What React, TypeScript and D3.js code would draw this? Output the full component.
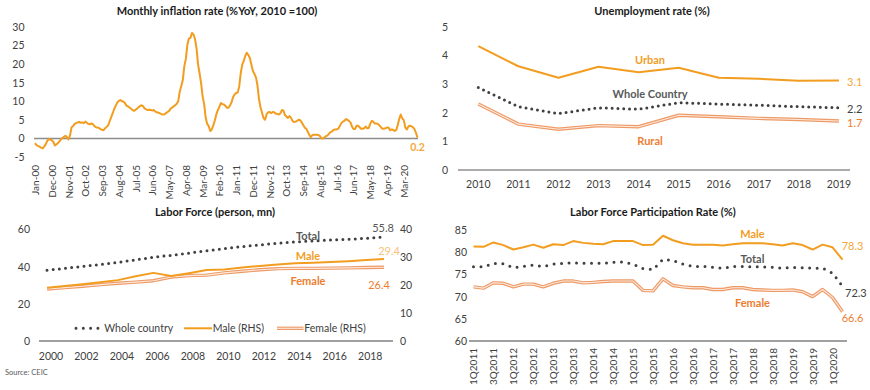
import React from "react";
import * as d3 from "d3";

const FONT = "Lato, 'Open Sans', sans-serif";
const ORANGE = "#F29D1F";
const RED_ORANGE = "#ED7D31";
const DARK = "#404040";

// Monthly CPI %YoY, Jan-2000 .. Dec-2020
const inflation = [
  -1.3, -1.8, -2.0, -2.2, -2.5, -2.7, -2.2, -1.6, -0.7, -0.2, -0.3, -0.5,
  -0.9, -1.9, -1.6, -1.3, -0.8, -0.3, 0.1, 0.4, 0.7, 0.3, -0.3, 0.8,
  3.0, 3.3, 3.9, 4.1, 4.3, 4.4, 4.2, 4.3, 4.1, 4.5, 4.2, 3.9,
  3.8, 4.0, 3.8, 3.3, 3.0, 2.9, 2.8, 2.5, 2.3, 2.2, 2.7, 3.1,
  3.5, 4.6, 5.7, 6.8, 7.9, 8.8, 9.6, 10.1, 10.3, 10.0, 9.9, 9.5,
  8.8, 8.6, 8.3, 8.0, 7.6, 7.4, 7.7, 8.0, 8.4, 8.7, 8.9, 8.6,
  8.0, 7.8, 7.6, 7.7, 7.6, 7.5, 7.6, 7.2, 7.0, 6.9, 6.7, 6.5,
  6.4, 6.5, 6.8, 7.1, 7.4, 8.0, 8.3, 8.6, 8.9, 9.3, 10.0, 12.6,
  14.1, 15.7, 19.4, 21.4, 25.2, 26.8, 27.0, 28.3, 27.9, 26.7, 24.2, 19.9,
  17.5, 14.8, 11.3, 9.2, 5.6, 3.9, 3.3, 2.0, 2.4, 3.5, 4.8, 6.5,
  7.6, 8.5, 9.5, 9.2, 9.1, 8.7, 8.2, 8.2, 8.9, 9.7, 11.1, 11.8,
  12.2, 12.3, 13.9, 17.5, 19.8, 20.8, 22.2, 23.0, 22.4, 21.6, 19.8, 18.1,
  17.3, 16.4, 14.2, 10.5, 8.3, 6.9, 5.4, 5.0, 6.5, 7.0, 7.1, 6.8,
  7.1, 7.0, 6.6, 6.6, 6.4, 6.7, 7.6, 7.5, 6.3, 5.9, 5.5, 6.0,
  5.5, 4.7, 4.4, 4.5, 4.7, 5.0, 4.9, 4.3, 3.6, 2.9, 2.6, 1.8,
  0.9, 0.3, 0.9, 1.0, 1.0, 1.0, 0.9, 0.6, 0.0, 0.0, 0.3, 0.6,
  0.8, 1.3, 1.7, 1.9, 2.3, 2.4, 2.4, 2.6, 3.3, 4.1, 4.5, 4.7,
  5.2, 5.0, 4.7, 4.3, 3.2, 2.5, 2.5, 3.4, 3.4, 3.0, 2.6, 2.6,
  2.7, 3.2, 2.7, 2.8, 3.9, 4.7, 4.5, 4.0, 4.0, 3.9, 3.5, 3.0,
  2.6, 2.6, 2.7, 2.9, 2.9, 2.2, 2.4, 2.3, 2.0, 2.2, 3.5, 5.2,
  6.4, 5.4, 4.9, 2.9, 2.4, 3.2, 3.4, 3.2, 3.0, 2.5, 1.5, 0.2,
];
const inflationTicks = [
  "Jan-00", "Dec-00", "Nov-01", "Oct-02", "Sep-03", "Aug-04", "Jul-05", "Jun-06",
  "May-07", "Apr-08", "Mar-09", "Feb-10", "Jan-11", "Dec-11", "Nov-12", "Oct-13",
  "Sep-14", "Aug-15", "Jul-16", "Jun-17", "May-18", "Apr-19", "Mar-20",
];
const inflationYTicks = [-5, 0, 5, 10, 15, 20, 25, 30];

// Unemployment rate (%)
const unempYears = [2010, 2011, 2012, 2013, 2014, 2015, 2016, 2017, 2018, 2019];
const unempUrban = [4.32, 3.62, 3.22, 3.6, 3.41, 3.57, 3.22, 3.18, 3.11, 3.12];
const unempWhole = [2.88, 2.21, 1.97, 2.17, 2.12, 2.35, 2.3, 2.26, 2.21, 2.17];
const unempRural = [2.3, 1.6, 1.42, 1.55, 1.51, 1.91, 1.86, 1.8, 1.76, 1.71];
const unempYTicks = [0, 1, 2, 3, 4, 5];

// Labor force (person, mn)
const lfYears = [2000, 2001, 2002, 2003, 2004, 2005, 2006, 2007, 2008, 2009,
  2010, 2011, 2012, 2013, 2014, 2015, 2016, 2017, 2018, 2019];
const lfTotal = [38.0, 39.0, 40.1, 41.1, 42.2, 43.6, 45.0, 46.0, 47.2, 48.5,
  49.6, 50.7, 51.6, 52.5, 53.2, 53.8, 54.2, 54.6, 55.2, 55.8];
const lfMale = [19.1, 19.7, 20.3, 21.0, 21.8, 23.2, 24.4, 23.3, 24.3, 25.4,
  25.6, 26.3, 26.9, 27.4, 27.8, 28.0, 28.3, 28.6, 29.0, 29.4];
const lfFemale = [18.6, 19.1, 19.6, 20.2, 20.7, 21.1, 21.6, 22.9, 23.4, 23.6,
  24.4, 25.0, 25.5, 25.9, 26.0, 26.0, 26.1, 26.2, 26.3, 26.4];
const lfLeftTicks = [0, 20, 40, 60];
const lfRightTicks = [0, 10, 20, 30, 40];
const lfXTicks = [2000, 2002, 2004, 2006, 2008, 2010, 2012, 2014, 2016, 2018];

// Labor force participation rate (%)
const lfprQuarters = [
  "1Q2011", "2Q2011", "3Q2011", "4Q2011", "1Q2012", "2Q2012", "3Q2012", "4Q2012",
  "1Q2013", "2Q2013", "3Q2013", "4Q2013", "1Q2014", "2Q2014", "3Q2014", "4Q2014",
  "1Q2015", "2Q2015", "3Q2015", "4Q2015", "1Q2016", "2Q2016", "3Q2016", "4Q2016",
  "1Q2017", "2Q2017", "3Q2017", "4Q2017", "1Q2018", "2Q2018", "3Q2018", "4Q2018",
  "1Q2019", "2Q2019", "3Q2019", "4Q2019", "1Q2020", "2Q2020",
];
const lfprMale = [81.3, 81.2, 82.2, 81.6, 80.6, 81.1, 81.7, 81.0, 81.8, 81.6,
  82.5, 82.1, 81.9, 81.8, 82.5, 82.5, 82.5, 81.6, 81.7, 83.7, 82.7, 82.0, 81.7,
  81.7, 81.7, 81.5, 81.8, 82.0, 82.0, 82.0, 81.8, 81.5, 82.0, 81.6, 80.6, 81.7,
  81.1, 78.3];
const lfprTotal = [76.7, 76.7, 77.5, 77.4, 76.5, 76.8, 77.1, 76.8, 77.3, 77.5,
  77.6, 77.5, 77.5, 77.5, 77.7, 77.8, 77.3, 76.3, 76.1, 78.4, 78.1, 77.3, 76.8,
  76.8, 76.6, 76.4, 76.8, 76.8, 76.7, 76.7, 76.6, 76.4, 76.6, 76.5, 76.4, 76.4,
  75.3, 72.3];
const lfprFemale = [72.2, 71.9, 73.1, 73.0, 72.2, 72.8, 72.8, 72.2, 73.0, 73.5,
  73.5, 73.1, 73.2, 73.4, 73.5, 73.5, 73.5, 71.4, 71.3, 74.0, 72.5, 72.2, 72.0,
  72.0, 71.6, 71.6, 72.0, 72.0, 71.6, 71.5, 71.4, 71.4, 71.5, 71.1, 70.0, 71.6,
  69.8, 66.6];
const lfprYTicks = [60, 65, 70, 75, 80, 85];

const DoubleLine = ({ d }: { d: string }) => (
  <g fill="none" strokeLinejoin="round">
    <path d={d} stroke="#EE9A67" strokeWidth={3.4} />
    <path d={d} stroke="#FCE9DC" strokeWidth={1.1} />
  </g>
);

const DotLine = ({ d, gap = 6 }: { d: string; gap?: number }) => (
  <path d={d} fill="none" stroke={DARK} strokeWidth={3} strokeLinecap="round"
    strokeDasharray={`0 ${gap}`} />
);

const Title = ({ x, y, text }: { x: number; y: number; text: string }) => (
  <text x={x} y={y} textAnchor="middle" dominantBaseline="central"
    fontWeight="bold" fontSize={11} fill="#1a1a1a">{text}</text>
);

export default function App() {
  // ---- inflation
  const xInf = d3.scaleLinear().domain([0, inflation.length - 1]).range([35, 417.5]);
  const yInf = d3.scaleLinear().domain([-5, 30]).range([157, 26.7]);
  const infLine = d3.line<number>().x((_, i) => xInf(i)).y((v) => yInf(v))(inflation) || "";

  // ---- unemployment
  const xU = d3.scaleLinear().domain([2010, 2019]).range([478.3, 839]);
  const yU = d3.scaleLinear().domain([0, 5]).range([170, 26.7]);
  const uLine = (vals: number[]) =>
    d3.line<number>().x((_, i) => xU(unempYears[i])).y((v) => yU(v))(vals) || "";

  // ---- labor force
  const xL = d3.scaleLinear().domain([2000, 2019]).range([47, 384]);
  const yLL = d3.scaleLinear().domain([0, 60]).range([341, 229.3]);
  const yLR = d3.scaleLinear().domain([0, 40]).range([341, 229.3]);
  const lfLine = (vals: number[], y: d3.ScaleLinear<number, number>) =>
    d3.line<number>().x((_, i) => xL(lfYears[i])).y((v) => y(v))(vals) || "";

  // ---- participation rate
  const xP = d3.scaleBand().domain(lfprQuarters).range([468.5, 847.5]);
  const yP = d3.scaleLinear().domain([60, 85]).range([341, 230]);
  const pLine = (vals: number[]) =>
    d3.line<number>().x((_, i) => (xP(lfprQuarters[i]) || 0) + xP.bandwidth() / 2)
      .y((v) => yP(v))(vals) || "";

  return (
    <svg width={870} height={390} style={{ position: "absolute", left: 0, top: 0, background: "#fff" }}
      fontFamily={FONT}>
      {/* Monthly inflation */}
      <Title x={217} y={10} text="Monthly inflation rate (%YoY, 2010 =100)" />
      {inflationYTicks.map((t) => (
        <text key={t} x={24.5} y={yInf(t)} textAnchor="end" dominantBaseline="central"
          fontSize={10.5} fill={DARK}>{t}</text>
      ))}
      <line x1={34} x2={418} y1={yInf(0)} y2={yInf(0)} stroke="#8c8c8c" strokeWidth={1.5} />
      {inflationTicks.map((t, i) => (
        <text key={t} transform={`translate(${xInf(i * 11)},165) rotate(-90)`} textAnchor="end"
          dominantBaseline="central" fontSize={10} fill={DARK}>{t}</text>
      ))}
      <path d={infLine} fill="none" stroke={ORANGE} strokeWidth={2} strokeLinejoin="round" />
      <text x={xInf(inflation.length - 1)} y={147} textAnchor="middle" dominantBaseline="central"
        fontSize={10.5} fontWeight="bold" fill="#F4A73C">{inflation[inflation.length - 1]}</text>

      {/* Unemployment */}
      <Title x={652} y={10} text="Unemployment rate (%)" />
      {unempYTicks.map((t) => (
        <text key={t} x={448} y={yU(t)} textAnchor="end" dominantBaseline="central"
          fontSize={10.5} fill={DARK}>{t}</text>
      ))}
      <line x1={458} x2={850} y1={yU(0)} y2={yU(0)} stroke="#595959" strokeWidth={1} />
      {unempYears.map((yr) => (
        <text key={yr} x={xU(yr)} y={184} textAnchor="middle" dominantBaseline="central"
          fontSize={10.5} fill={DARK}>{yr}</text>
      ))}
      <path d={uLine(unempUrban)} fill="none" stroke={ORANGE} strokeWidth={2} strokeLinejoin="round" />
      <DotLine d={uLine(unempWhole)} gap={5.8} />
      <DoubleLine d={uLine(unempRural)} />
      <text x={650} y={59} textAnchor="middle" dominantBaseline="central" fontSize={11}
        fontWeight="bold" fill={ORANGE}>Urban</text>
      <text x={650} y={93} textAnchor="middle" dominantBaseline="central" fontSize={11}
        fontWeight="bold" fill="#595959">Whole Country</text>
      <text x={650} y={140} textAnchor="middle" dominantBaseline="central" fontSize={11}
        fontWeight="bold" fill={RED_ORANGE}>Rural</text>
      <text x={847} y={81} dominantBaseline="central" fontSize={11} fill="#F4A73C">3.1</text>
      <text x={847} y={108} dominantBaseline="central" fontSize={11} fill={DARK}>2.2</text>
      <text x={847} y={122} dominantBaseline="central" fontSize={11} fill={RED_ORANGE}>1.7</text>

      {/* Labor force */}
      <Title x={215} y={211.5} text="Labor Force (person, mn)" />
      {lfLeftTicks.map((t) => (
        <text key={t} x={30} y={yLL(t)} textAnchor="end" dominantBaseline="central"
          fontSize={10.5} fill={DARK}>{t}</text>
      ))}
      {lfRightTicks.map((t) => (
        <text key={t} x={400} y={yLR(t)} dominantBaseline="central"
          fontSize={10.5} fill={DARK}>{t}</text>
      ))}
      <line x1={39} x2={393} y1={341} y2={341} stroke="#404040" strokeWidth={1} />
      {lfXTicks.map((yr) => (
        <text key={yr} x={xL(yr) + 4} y={356} textAnchor="middle" dominantBaseline="central"
          fontSize={10.5} fill={DARK}>{yr}</text>
      ))}
      <DoubleLine d={lfLine(lfFemale, yLR)} />
      <path d={lfLine(lfMale, yLR)} fill="none" stroke={ORANGE} strokeWidth={2} strokeLinejoin="round" />
      <DotLine d={lfLine(lfTotal, yLL)} gap={6.2} />
      <text x={308} y={235} textAnchor="middle" dominantBaseline="central" fontSize={11}
        fontWeight="bold" fill="#595959">Total</text>
      <text x={308} y={255.7} textAnchor="middle" dominantBaseline="central" fontSize={11}
        fontWeight="bold" fill={ORANGE}>Male</text>
      <text x={308} y={280} textAnchor="middle" dominantBaseline="central" fontSize={11}
        fontWeight="bold" fill={RED_ORANGE}>Female</text>
      <text x={383} y={227.3} textAnchor="middle" dominantBaseline="central" fontSize={11}
        fill="#595959">{lfTotal[lfTotal.length - 1]}</text>
      <text x={389} y={250} textAnchor="middle" dominantBaseline="central" fontSize={11}
        fill="#F7C27A">{lfMale[lfMale.length - 1]}</text>
      <text x={379} y={284.3} textAnchor="middle" dominantBaseline="central" fontSize={11}
        fill={RED_ORANGE}>{lfFemale[lfFemale.length - 1]}</text>
      {/* legend */}
      <DotLine d="M76,328.3L98,328.3" gap={7.3} />
      <text x={104.3} y={328.3} dominantBaseline="central" fontSize={10.5} fill={DARK}>Whole country</text>
      <line x1={184} x2={212} y1={328.3} y2={328.3} stroke={ORANGE} strokeWidth={2} />
      <text x={212.7} y={328.3} dominantBaseline="central" fontSize={10.5} fill={DARK}>Male (RHS)</text>
      <DoubleLine d="M277,328.3L303.5,328.3" />
      <text x={304.3} y={328.3} dominantBaseline="central" fontSize={10.5} fill={DARK}>Female (RHS)</text>
      <text x={5} y={372.5} dominantBaseline="central" fontSize={7.5} fill="#595959">Source: CEIC</text>

      {/* Participation rate */}
      <Title x={653} y={211.5} text="Labor Force Participation Rate (%)" />
      {lfprYTicks.map((t) => (
        <text key={t} x={467} y={yP(t)} textAnchor="end" dominantBaseline="central"
          fontSize={10.5} fill={DARK}>{t}</text>
      ))}
      <line x1={469} x2={847} y1={341} y2={341} stroke="#404040" strokeWidth={1} />
      {lfprQuarters.filter((_, i) => i % 2 === 0).map((q) => (
        <text key={q} transform={`translate(${(xP(q) || 0) + xP.bandwidth() / 2},348) rotate(-90)`}
          textAnchor="end" dominantBaseline="central" fontSize={10} fill={DARK}>{q}</text>
      ))}
      <path d={pLine(lfprMale)} fill="none" stroke={ORANGE} strokeWidth={2} strokeLinejoin="round" />
      <DotLine d={pLine(lfprTotal)} gap={7.5} />
      <DoubleLine d={pLine(lfprFemale)} />
      <text x={752.5} y={233.3} textAnchor="middle" dominantBaseline="central" fontSize={11}
        fontWeight="bold" fill={ORANGE}>Male</text>
      <text x={752.5} y={258.3} textAnchor="middle" dominantBaseline="central" fontSize={11}
        fontWeight="bold" fill="#595959">Total</text>
      <text x={752.5} y={302.3} textAnchor="middle" dominantBaseline="central" fontSize={11}
        fontWeight="bold" fill={RED_ORANGE}>Female</text>
      <text x={841.7} y={245} dominantBaseline="central" fontSize={11} fill="#F4A73C">
        {lfprMale[lfprMale.length - 1]}</text>
      <text x={845} y={292.3} dominantBaseline="central" fontSize={11} fill={DARK}>
        {lfprTotal[lfprTotal.length - 1]}</text>
      <text x={841.7} y={317} dominantBaseline="central" fontSize={11} fill={RED_ORANGE}>
        {lfprFemale[lfprFemale.length - 1]}</text>
    </svg>
  );
}
